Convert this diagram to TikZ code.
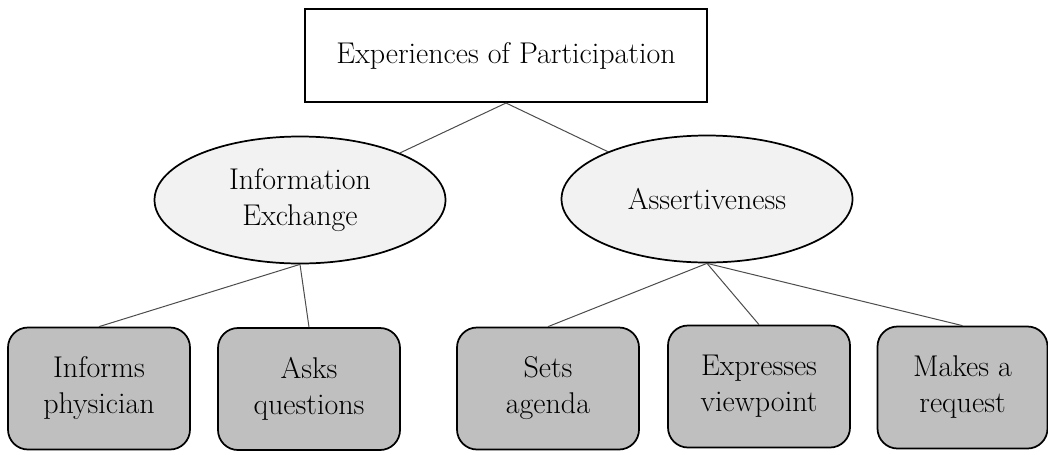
\documentclass[tikz,border=0pt]{standalone}
\usepackage{tikz}
\usetikzlibrary{shapes.geometric}

\begin{document}
\begin{tikzpicture}[x=0.75pt,y=-0.75pt,
		font=\fontsize{22.5}{27}\selectfont,
		topbox/.style={draw,line width=1.5pt,fill=white,minimum width=301.5pt,minimum height=69.75pt,inner sep=0pt},
		theme/.style={ellipse,draw,line width=1.3pt,fill=black!5,minimum width=218.25pt,minimum height=95.25pt,inner sep=0pt,align=center},
		item/.style={draw,line width=1.3pt,fill=black!25,rounded corners=15pt,minimum width=136.5pt,minimum height=91.5pt,inner sep=0pt,align=center},
		link/.style={draw=black!70,line width=0.75pt}]
		\useasboundingbox (0,0) rectangle (1048,454);
		\node[topbox] (exp) at (506,55.5) {Experiences of Participation};
		\node[theme] (info) at (300,200) {Information\\Exchange};
		\node[theme] (assert) at (707,199) {Assertiveness};
		\node[item] (informs) at (99,388.5) {Informs\\physician};
		\node[item] (asks) at (309,389) {Asks\\questions};
		\node[item] (sets) at (548,388.5) {Sets\\agenda};
		\node[item] (expresses) at (759,386.5) {Expresses\\viewpoint};
		\node[item,minimum width=127.5pt] (makes) at (962.5,387.5) {Makes a\\request};
		\draw[link] (exp.south) -- (info);
		\draw[link] (exp.south) -- (assert);
		\foreach \b in {informs,asks} \draw[link] (info.south) -- (\b.north);
		\foreach \b in {sets,expresses,makes} \draw[link] (assert.south) -- (\b.north);
	\end{tikzpicture}
\end{document}
